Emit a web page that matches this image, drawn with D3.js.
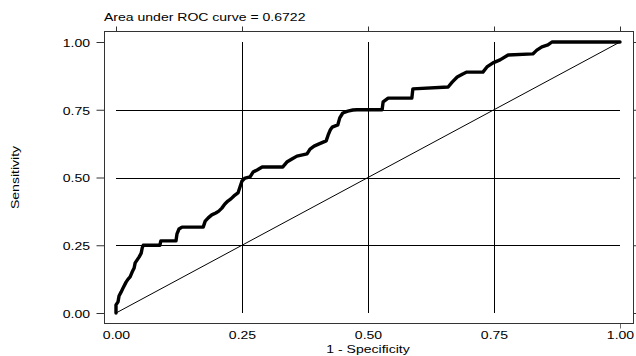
<!DOCTYPE html>
<html>
<head>
<meta charset="utf-8">
<script src="https://cdn.jsdelivr.net/npm/d3@7"></script>
<style>
  body { margin: 0; background: #fff; }
  text { font-family: "Liberation Sans", Arial, sans-serif; fill: #000; }
</style>
</head>
<body>
<div id="chart"></div>
<script>
// Chart size
var width  = 636;
var height = 356;

// ROC curve vertices (1 - specificity, sensitivity)
var rocFpr = [0, 0, 0.004, 0.006, 0.010, 0.014, 0.020, 0.024, 0.028, 0.032, 0.036, 0.038,
              0.042, 0.046, 0.050, 0.052, 0.054, 0.087, 0.089, 0.119, 0.121, 0.125, 0.131,
              0.173, 0.177, 0.183, 0.190, 0.198, 0.204, 0.210, 0.216, 0.222, 0.228, 0.234,
              0.242, 0.246, 0.250, 0.256, 0.266, 0.272, 0.280, 0.290, 0.331, 0.339, 0.349,
              0.359, 0.379, 0.385, 0.393, 0.403, 0.417, 0.421, 0.425, 0.429, 0.440, 0.444,
              0.450, 0.460, 0.470, 0.478, 0.528, 0.530, 0.540, 0.587, 0.589, 0.659, 0.667,
              0.677, 0.688, 0.696, 0.728, 0.736, 0.748, 0.762, 0.778, 0.827, 0.835, 0.845,
              0.857, 0.865, 1];
var rocTpr = [0, 0.030, 0.041, 0.063, 0.077, 0.092, 0.114, 0.125, 0.133, 0.151, 0.166, 0.185,
              0.196, 0.207, 0.221, 0.240, 0.250, 0.250, 0.266, 0.266, 0.292, 0.310, 0.317,
              0.317, 0.339, 0.351, 0.362, 0.369, 0.376, 0.387, 0.402, 0.413, 0.421, 0.432,
              0.443, 0.465, 0.487, 0.498, 0.502, 0.520, 0.528, 0.539, 0.539, 0.557, 0.568,
              0.579, 0.587, 0.605, 0.616, 0.624, 0.635, 0.657, 0.675, 0.686, 0.694, 0.720,
              0.738, 0.745, 0.749, 0.750, 0.750, 0.779, 0.793, 0.793, 0.827, 0.834, 0.852,
              0.871, 0.882, 0.889, 0.889, 0.908, 0.923, 0.934, 0.952, 0.956, 0.970, 0.982,
              0.989, 1.0, 1.0];

var tickVals = [0, 0.25, 0.5, 0.75, 1];
var gridVals = [0.25, 0.5, 0.75];
var titleText = "Area under ROC curve = 0.6722";
var xTitle = "1 - Specificity";
var yTitle = "Sensitivity";

// text in the original is drawn a bit wider than normal
var stretch = 1.21;
var fontSize = 11.6;

var frame = { left: 104, top: 31, right: 633, bottom: 323 };

var x = d3.scaleLinear().domain([0, 1]).range([116, 620]);
var y = d3.scaleLinear().domain([0, 1]).range([313, 42]);

// snap thin lines onto the pixel grid
var crisp = v => Math.round(v) + 0.5;

var svg = d3.select("#chart").append("svg")
    .attr("width", width)
    .attr("height", height);

// Gridlines
svg.append("g").selectAll("line")
    .data(gridVals)
    .enter()
    .append("line")
    .attr("x1", d => crisp(x(d))).attr("x2", d => crisp(x(d)))
    .attr("y1", y(1)).attr("y2", y(0))
    .attr("stroke", "#000").attr("stroke-width", 1);

svg.append("g").selectAll("line")
    .data(gridVals)
    .enter()
    .append("line")
    .attr("x1", x(0)).attr("x2", x(1))
    .attr("y1", d => crisp(y(d))).attr("y2", d => crisp(y(d)))
    .attr("stroke", "#000").attr("stroke-width", 1);

// Reference diagonal
svg.append("path")
    .datum([0, 1])
    .attr("d", d3.line().x(d => x(d)).y(d => y(d)))
    .attr("fill", "none")
    .attr("stroke", "#000")
    .attr("stroke-width", 1);

// ROC curve
var rocPoints = rocFpr.map((f, i) => [f, rocTpr[i]]);
svg.append("path")
    .datum(rocPoints)
    .attr("d", d3.line().x(d => x(d[0])).y(d => y(d[1])))
    .attr("fill", "none")
    .attr("stroke", "#000")
    .attr("stroke-width", 3.4)
    .attr("stroke-linejoin", "round")
    .attr("stroke-linecap", "round");

// Frame
svg.append("rect")
    .attr("x", frame.left + 0.5)
    .attr("y", frame.top + 0.5)
    .attr("width", frame.right - frame.left)
    .attr("height", frame.bottom - frame.top)
    .attr("fill", "none")
    .attr("stroke", "#333")
    .attr("stroke-width", 1);

function styleAxis(g) {
    g.select(".domain").remove();
    g.selectAll(".tick line").attr("stroke", "#333");
    g.selectAll(".tick text")
        .attr("font-size", fontSize)
        .attr("font-family", "Liberation Sans, Arial, sans-serif")
        .attr("fill", "#000");
}

// Left axis with labels
svg.append("g")
    .attr("transform", "translate(" + (frame.left + 0.5) + ",0)")
    .call(d3.axisLeft(y).tickValues(tickVals).tickFormat(d3.format(".2f"))
          .tickSize(8).tickSizeOuter(0).tickPadding(4))
    .call(styleAxis)
    .call(g => g.selectAll(".tick text")
          .attr("dy", "0.38em")
          .attr("transform", "scale(" + stretch + ",1)"));

// Right axis, ticks only
svg.append("g")
    .attr("transform", "translate(" + (frame.right + 0.5) + ",0)")
    .call(d3.axisRight(y).tickValues(tickVals).tickFormat("")
          .tickSize(4).tickSizeOuter(0))
    .call(styleAxis);

// Top axis, ticks only
svg.append("g")
    .attr("transform", "translate(0," + (frame.top + 0.5) + ")")
    .call(d3.axisTop(x).tickValues(tickVals).tickFormat("")
          .tickSize(5).tickSizeOuter(0))
    .call(styleAxis);

// Bottom axis with labels
svg.append("g")
    .attr("transform", "translate(0," + (frame.bottom + 0.5) + ")")
    .call(d3.axisBottom(x).tickValues(tickVals).tickFormat(d3.format(".2f"))
          .tickSize(5).tickSizeOuter(0).tickPadding(2.5))
    .call(styleAxis)
    .call(g => g.selectAll(".tick line").attr("stroke-opacity", d => d === 1 ? 0.7 : 0))
    .call(g => g.selectAll(".tick text")
          .attr("transform", "scale(" + stretch + ",1)"));

// Titles
svg.append("text")
    .attr("transform", "translate(" + frame.left + ",20.7) scale(" + stretch + ",1)")
    .attr("font-size", fontSize)
    .text(titleText);

svg.append("text")
    .attr("transform", "translate(" + x(0.5) + ",353) scale(" + stretch + ",1)")
    .attr("text-anchor", "middle")
    .attr("font-size", fontSize)
    .text(xTitle);

svg.append("text")
    .attr("transform", "translate(19," + y(0.5) + ") rotate(-90) scale(" + stretch + ",1)")
    .attr("text-anchor", "middle")
    .attr("font-size", fontSize)
    .text(yTitle);
</script>
</body>
</html>
